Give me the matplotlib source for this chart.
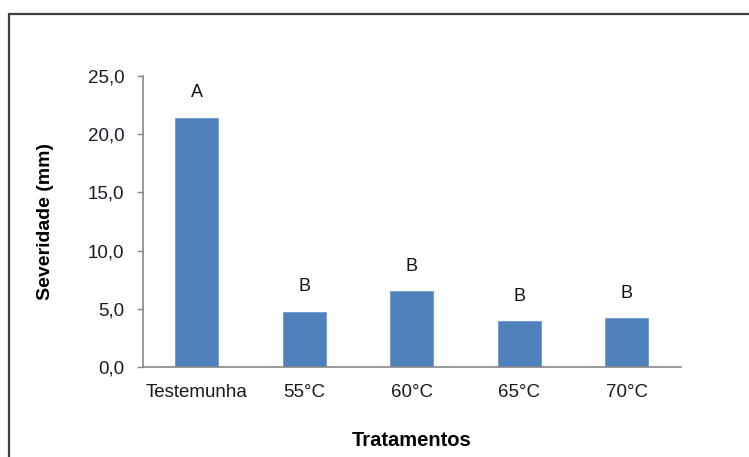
import matplotlib.pyplot as plt
from matplotlib.patches import Rectangle

plt.rcParams['font.family'] = ['Liberation Sans', 'DejaVu Sans']

tratamentos = ['Testemunha', '55°C', '60°C', '65°C', '70°C']
severidade = [21.4, 4.75, 6.5, 3.95, 4.2]
letras = ['A', 'B', 'B', 'B', 'B']
yticks = [0, 5, 10, 15, 20, 25]

fig = plt.figure(figsize=(7.49, 4.57), dpi=100)
ax = fig.add_axes([143 / 749, 90 / 457, 537.5 / 749, 291 / 457])

x = range(len(tratamentos))
ax.bar(x, severidade, width=0.4, color='#4F81BD', edgecolor='#6f97c9', linewidth=0.6)

for xi, v, l in zip(x, severidade, letras):
    ax.annotate(l, (xi, v), xytext=(0, 18), textcoords='offset points',
                ha='center', va='center', fontsize=13, color='#111111')

ax.set_xlim(-0.5, len(tratamentos) - 0.5)
ax.set_ylim(0, 25)
ax.set_xticks(list(x))
ax.set_xticklabels(tratamentos)
ax.set_yticks(yticks)
ax.set_yticklabels([f'{t:.1f}'.replace('.', ',') for t in yticks])

ax.tick_params(axis='x', length=0, pad=12, labelsize=13.5, labelcolor='#1a1a1a')
ax.tick_params(axis='y', length=4.5, width=1, color='#868686', pad=9,
               labelsize=13.5, labelcolor='#1a1a2a')

for s in ['top', 'right']:
    ax.spines[s].set_visible(False)
for s in ['left', 'bottom']:
    ax.spines[s].set_color('#868686')
    ax.spines[s].set_linewidth(1.2)

ax.set_ylabel('Severidade (mm)', fontsize=14, fontweight='bold', va='center')
ax.yaxis.set_label_coords((46 - 143) / 537.5, 0.5)
ax.set_xlabel('Tratamentos', fontsize=14.5, fontweight='bold', va='center')
ax.xaxis.set_label_coords(0.5, (367 - 440) / 291)

# outer chart border (runs off the right and bottom edges)
fig.patches.append(Rectangle((8.5 / 749, -0.1), 1.0, (457 - 14.5) / 457 + 0.1,
                             transform=fig.transFigure, fill=False,
                             edgecolor='#404040', linewidth=1.6, clip_on=False))

fig.savefig('out.png', dpi=100)
